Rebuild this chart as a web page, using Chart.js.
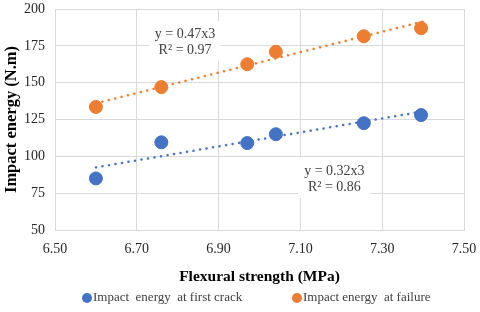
<!DOCTYPE html>
<html>
<head>
<meta charset="utf-8">
<script src="https://cdn.jsdelivr.net/npm/chart.js@4.4.1/dist/chart.umd.min.js"></script>
<style>
  html, body { margin: 0; padding: 0; background: #fff; }
  #wrap { width: 480px; height: 312px; }
</style>
</head>
<body>
<div id="wrap"><canvas id="chart"></canvas></div>
<script>
// ─── Data ─────────────────────────────────────────────────────────────────
const flexural      = [6.60, 6.76, 6.97, 7.04, 7.255, 7.395];
const firstCrack    = [85, 109.5, 109, 115, 122.5, 128];
const failure       = [133.5, 147, 162.5, 171, 181.5, 187];

// trendline end points (x, y) as drawn in the picture
const trendX        = [6.60, 7.40];
const trendCrack    = [92.5, 130.5];
const trendFailure  = [136, 191.5];

const xTicks        = [6.50, 6.70, 6.90, 7.10, 7.30, 7.50];
const yTicks        = [50, 75, 100, 125, 150, 175, 200];

const seriesNames   = ['Impact  energy  at first crack', 'Impact energy  at failure'];
const equations     = [
    { x: 6.818, y: 183, lines: ['y = 0.47x3', 'R\u00b2 = 0.97'] },
    { x: 7.183, y: 90,  lines: ['y = 0.32x3', 'R\u00b2 = 0.86'] }
];

const BLUE   = '#4472c4';
const ORANGE = '#ed7d31';
const SERIF  = '"Liberation Serif", "Times New Roman", serif';

const toPoints = (xs, ys) => xs.map((x, i) => ({ x, y: ys[i] }));

// ─── Equation labels drawn in data coordinates ────────────────────────────
const equationPlugin = {
    id: 'equations',
    afterDatasetsDraw(chart) {
        const { ctx, scales } = chart;
        ctx.save();
        ctx.font = '14px ' + SERIF;
        ctx.textAlign = 'center';
        ctx.textBaseline = 'middle';
        equations.forEach(eq => {
            const cx = scales.x.getPixelForValue(eq.x);
            const cy = scales.y.getPixelForValue(eq.y);
            ctx.fillStyle = '#fff';
            ctx.fillRect(cx - 36, cy - 13, 72, 40);
            ctx.fillStyle = '#404040';
            eq.lines.forEach((l, i) => ctx.fillText(l, cx, cy + i * 16));
        });
        ctx.restore();
    }
};

// ─── Simple bottom legend (scatter series only) ───────────────────────────
const legendPlugin = {
    id: 'miniLegend',
    afterDraw(chart) {
        const { ctx } = chart;
        const items = chart.data.datasets.filter(d => !d.label.startsWith('trend'));
        const startX = [82, 292];
        const y = chart.height - 14;
        ctx.save();
        ctx.font = '13px ' + SERIF;
        ctx.textBaseline = 'middle';
        ctx.textAlign = 'left';
        items.forEach((d, i) => {
            ctx.fillStyle = d.backgroundColor;
            ctx.beginPath();
            ctx.arc(startX[i] + 5, y, 5, 0, Math.PI * 2);
            ctx.fill();
            ctx.fillStyle = '#404040';
            ctx.fillText(d.label, startX[i] + 11, y);
        });
        ctx.restore();
    }
};

new Chart(document.getElementById('chart'), {
    type: 'scatter',
    data: {
        datasets: [
            {
                label: seriesNames[0],
                data: toPoints(flexural, firstCrack),
                backgroundColor: BLUE,
                borderColor: BLUE,
                pointRadius: 6.5,
                pointHoverRadius: 6.5,
                order: 1
            },
            {
                label: seriesNames[1],
                data: toPoints(flexural, failure),
                backgroundColor: ORANGE,
                borderColor: ORANGE,
                pointRadius: 6.5,
                pointHoverRadius: 6.5,
                order: 1
            },
            {
                label: 'trend-crack',
                type: 'line',
                data: toPoints(trendX, trendCrack),
                borderColor: BLUE,
                borderWidth: 2.5,
                borderDash: [0.1, 6.5],
                borderCapStyle: 'round',
                pointRadius: 0,
                fill: false,
                order: 2
            },
            {
                label: 'trend-failure',
                type: 'line',
                data: toPoints(trendX, trendFailure),
                borderColor: ORANGE,
                borderWidth: 2.5,
                borderDash: [0.1, 6.5],
                borderCapStyle: 'round',
                pointRadius: 0,
                fill: false,
                order: 2
            }
        ]
    },
    options: {
        responsive: true,
        maintainAspectRatio: false,
        animation: false,
        layout: { padding: { top: 9, right: 16, left: 0, bottom: 22 } },
        plugins: {
            tooltip: { enabled: false },
            legend: { display: false }
        },
        scales: {
            x: {
                type: 'linear',
                min: 6.5,
                max: 7.5,
                afterBuildTicks: s => { s.ticks = xTicks.map(v => ({ value: v })); },
                afterFit: s => { s.height = 60; s.paddingLeft = 0; s.paddingRight = 0; },
                grid: { color: '#d9d9d9', lineWidth: 1, drawTicks: false },
                border: { color: '#d9d9d9' },
                ticks: {
                    padding: 11,
                    color: '#262626',
                    font: { family: SERIF, size: 14 },
                    callback: v => v.toFixed(2)
                },
                title: {
                    display: true,
                    text: 'Flexural strength (MPa)',
                    color: '#000',
                    font: { family: SERIF, size: 15.5, weight: 'bold' },
                    padding: { top: 6 }
                }
            },
            y: {
                min: 50,
                max: 200,
                afterBuildTicks: s => { s.ticks = yTicks.map(v => ({ value: v })); },
                afterFit: s => { s.width = 55; s.paddingTop = 0; s.paddingBottom = 0; },
                grid: { color: '#d9d9d9', lineWidth: 1, drawTicks: false },
                border: { color: '#d9d9d9' },
                ticks: {
                    padding: 10,
                    color: '#262626',
                    font: { family: SERIF, size: 14 }
                },
                title: {
                    display: true,
                    text: 'Impact energy (N.m)',
                    color: '#000',
                    font: { family: SERIF, size: 16.5, weight: 'bold' },
                    padding: { top: 2, bottom: 0 }
                }
            }
        }
    },
    plugins: [equationPlugin, legendPlugin]
});
</script>
</body>
</html>
